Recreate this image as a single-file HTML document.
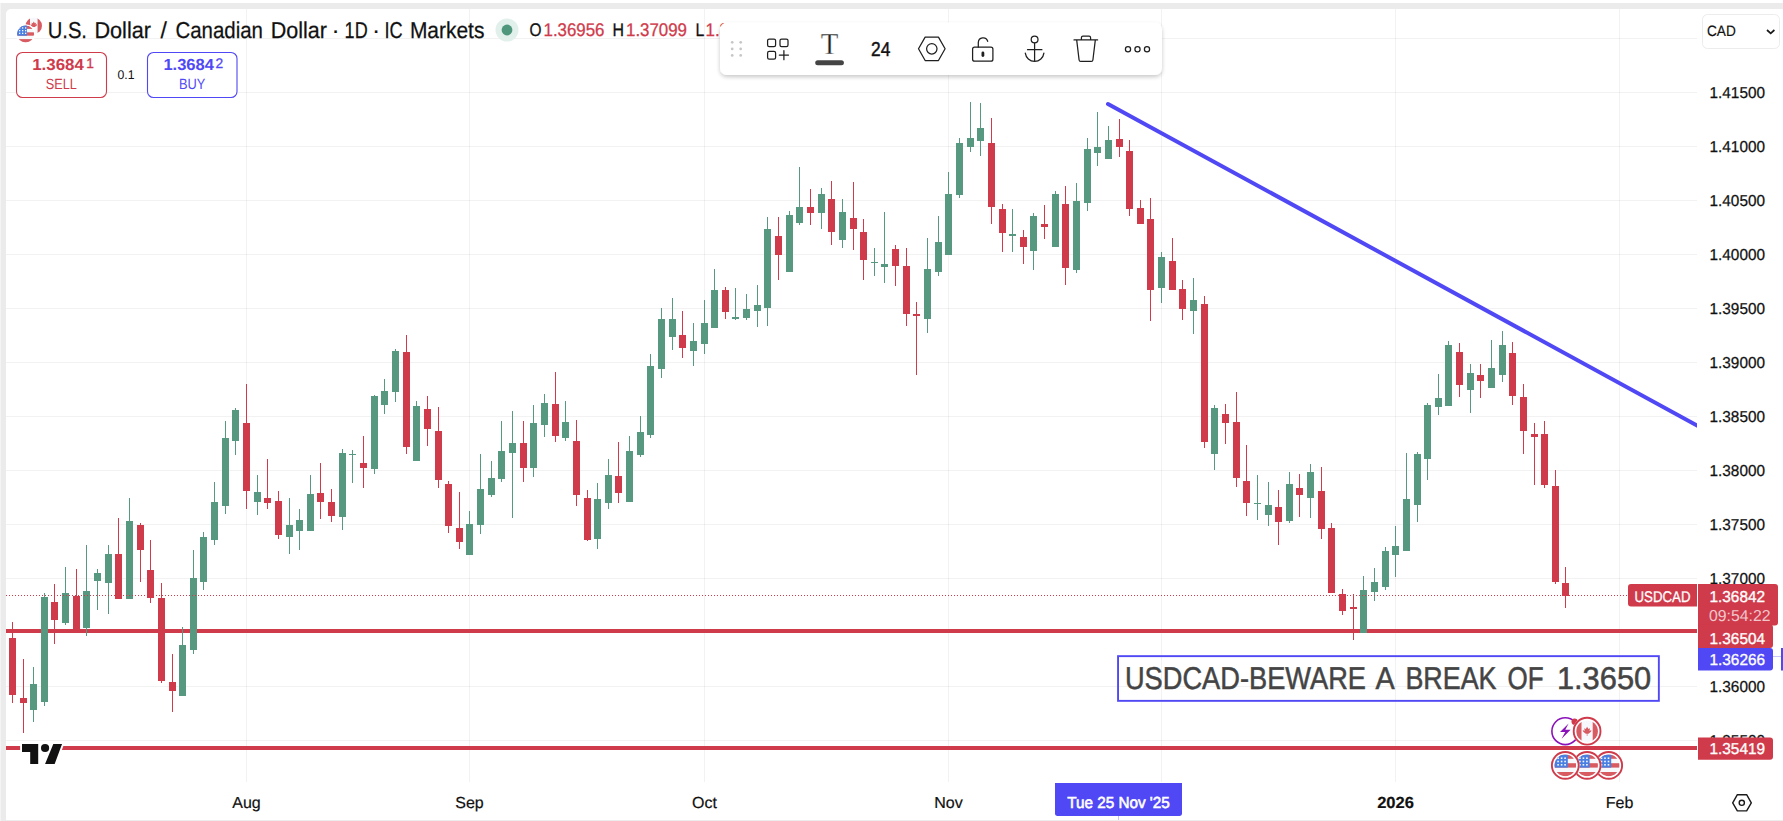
<!DOCTYPE html>
<html><head><meta charset="utf-8"><title>USDCAD chart</title>
<style>
html,body{margin:0;padding:0;background:#fff;}
body{width:1783px;height:821px;overflow:hidden;}
svg{display:block;font-family:"Liberation Sans",sans-serif;text-rendering:geometricPrecision;}
.cr{shape-rendering:crispEdges}
</style></head><body>
<svg width="1783" height="821" viewBox="0 0 1783 821">

<rect x="0" y="0" width="1783" height="821" fill="#fff"/>
<g class="cr"><rect x="0" y="3" width="1783" height="6" fill="#ebebeb"/><rect x="0" y="3" width="6" height="818" fill="#ebebeb"/><rect x="0" y="3" width="1" height="818" fill="#f4f4f4"/><rect x="6" y="820" width="1777" height="1" fill="#ececec"/></g>
<path d="M6 9h5a5 5 0 0 0-5 5z" fill="#ebebeb"/>
<path d="M1783 9h-5a5 5 0 0 1 5 5z" fill="#ebebeb"/>
<g class="cr" fill="#000" fill-opacity="0.052">
<rect x="6" y="38" width="1691" height="1"/>
<rect x="6" y="92" width="1691" height="1"/>
<rect x="6" y="146" width="1691" height="1"/>
<rect x="6" y="200" width="1691" height="1"/>
<rect x="6" y="254" width="1691" height="1"/>
<rect x="6" y="308" width="1691" height="1"/>
<rect x="6" y="362" width="1691" height="1"/>
<rect x="6" y="416" width="1691" height="1"/>
<rect x="6" y="470" width="1691" height="1"/>
<rect x="6" y="524" width="1691" height="1"/>
<rect x="6" y="578" width="1691" height="1"/>
<rect x="6" y="632" width="1691" height="1"/>
<rect x="6" y="686" width="1691" height="1"/>
<rect x="6" y="740" width="1691" height="1"/>
<rect x="246" y="9" width="1" height="773"/>
<rect x="469" y="9" width="1" height="773"/>
<rect x="704" y="9" width="1" height="773"/>
<rect x="948" y="9" width="1" height="773"/>
<rect x="1161" y="9" width="1" height="773"/>
<rect x="1395" y="9" width="1" height="773"/>
<rect x="1619" y="9" width="1" height="773"/>
</g>
<g class="cr" fill="#cf3b4b"><rect x="6" y="629" width="1691" height="4"/><rect x="6" y="746" width="1691" height="4"/></g>
<g class="cr">
<rect x="12" y="622" width="1" height="81" fill="#cf3b4b"/><rect x="9" y="638" width="7" height="57" fill="#cf3b4b"/>
<rect x="23" y="659" width="1" height="74" fill="#cf3b4b"/><rect x="20" y="698" width="7" height="5" fill="#cf3b4b"/>
<rect x="33" y="667" width="1" height="55" fill="#579980"/><rect x="30" y="684" width="7" height="26" fill="#579980"/>
<rect x="44" y="593" width="1" height="113" fill="#579980"/><rect x="41" y="597" width="7" height="105" fill="#579980"/>
<rect x="54" y="584" width="1" height="60" fill="#cf3b4b"/><rect x="51" y="602" width="7" height="18" fill="#cf3b4b"/>
<rect x="65" y="567" width="1" height="58" fill="#579980"/><rect x="62" y="593" width="7" height="30" fill="#579980"/>
<rect x="76" y="569" width="1" height="63" fill="#cf3b4b"/><rect x="73" y="596" width="7" height="35" fill="#cf3b4b"/>
<rect x="86" y="545" width="1" height="91" fill="#579980"/><rect x="83" y="591" width="7" height="37" fill="#579980"/>
<rect x="97" y="569" width="1" height="41" fill="#579980"/><rect x="94" y="573" width="7" height="8" fill="#579980"/>
<rect x="108" y="545" width="1" height="69" fill="#579980"/><rect x="105" y="554" width="7" height="29" fill="#579980"/>
<rect x="118" y="518" width="1" height="81" fill="#cf3b4b"/><rect x="115" y="554" width="7" height="45" fill="#cf3b4b"/>
<rect x="129" y="498" width="1" height="101" fill="#579980"/><rect x="126" y="521" width="7" height="78" fill="#579980"/>
<rect x="140" y="523" width="1" height="59" fill="#cf3b4b"/><rect x="137" y="525" width="7" height="25" fill="#cf3b4b"/>
<rect x="150" y="540" width="1" height="63" fill="#cf3b4b"/><rect x="147" y="570" width="7" height="28" fill="#cf3b4b"/>
<rect x="161" y="583" width="1" height="100" fill="#cf3b4b"/><rect x="158" y="598" width="7" height="83" fill="#cf3b4b"/>
<rect x="172" y="654" width="1" height="58" fill="#cf3b4b"/><rect x="169" y="682" width="7" height="9" fill="#cf3b4b"/>
<rect x="182" y="627" width="1" height="69" fill="#579980"/><rect x="179" y="645" width="7" height="51" fill="#579980"/>
<rect x="193" y="550" width="1" height="104" fill="#579980"/><rect x="190" y="578" width="7" height="72" fill="#579980"/>
<rect x="203" y="532" width="1" height="58" fill="#579980"/><rect x="200" y="537" width="7" height="45" fill="#579980"/>
<rect x="214" y="482" width="1" height="63" fill="#579980"/><rect x="211" y="502" width="7" height="38" fill="#579980"/>
<rect x="225" y="421" width="1" height="93" fill="#579980"/><rect x="222" y="438" width="7" height="68" fill="#579980"/>
<rect x="235" y="408" width="1" height="47" fill="#579980"/><rect x="232" y="410" width="7" height="31" fill="#579980"/>
<rect x="246" y="384" width="1" height="125" fill="#cf3b4b"/><rect x="243" y="423" width="7" height="68" fill="#cf3b4b"/>
<rect x="257" y="475" width="1" height="40" fill="#579980"/><rect x="254" y="492" width="7" height="10" fill="#579980"/>
<rect x="267" y="459" width="1" height="50" fill="#cf3b4b"/><rect x="264" y="498" width="7" height="5" fill="#cf3b4b"/>
<rect x="278" y="491" width="1" height="48" fill="#cf3b4b"/><rect x="275" y="501" width="7" height="34" fill="#cf3b4b"/>
<rect x="289" y="498" width="1" height="56" fill="#579980"/><rect x="286" y="525" width="7" height="12" fill="#579980"/>
<rect x="299" y="509" width="1" height="41" fill="#579980"/><rect x="296" y="520" width="7" height="11" fill="#579980"/>
<rect x="310" y="475" width="1" height="56" fill="#579980"/><rect x="307" y="494" width="7" height="37" fill="#579980"/>
<rect x="320" y="463" width="1" height="56" fill="#cf3b4b"/><rect x="317" y="493" width="7" height="9" fill="#cf3b4b"/>
<rect x="331" y="489" width="1" height="33" fill="#cf3b4b"/><rect x="328" y="502" width="7" height="14" fill="#cf3b4b"/>
<rect x="342" y="449" width="1" height="81" fill="#579980"/><rect x="339" y="453" width="7" height="64" fill="#579980"/>
<rect x="352" y="450" width="1" height="33" fill="#579980"/><rect x="349" y="454" width="7" height="1" fill="#579980"/>
<rect x="363" y="436" width="1" height="52" fill="#cf3b4b"/><rect x="360" y="463" width="7" height="5" fill="#cf3b4b"/>
<rect x="374" y="395" width="1" height="79" fill="#579980"/><rect x="371" y="396" width="7" height="73" fill="#579980"/>
<rect x="384" y="379" width="1" height="35" fill="#579980"/><rect x="381" y="391" width="7" height="14" fill="#579980"/>
<rect x="395" y="349" width="1" height="53" fill="#579980"/><rect x="392" y="351" width="7" height="41" fill="#579980"/>
<rect x="406" y="335" width="1" height="119" fill="#cf3b4b"/><rect x="403" y="352" width="7" height="95" fill="#cf3b4b"/>
<rect x="416" y="401" width="1" height="60" fill="#579980"/><rect x="413" y="406" width="7" height="55" fill="#579980"/>
<rect x="427" y="396" width="1" height="50" fill="#cf3b4b"/><rect x="424" y="409" width="7" height="20" fill="#cf3b4b"/>
<rect x="438" y="407" width="1" height="81" fill="#cf3b4b"/><rect x="435" y="431" width="7" height="49" fill="#cf3b4b"/>
<rect x="448" y="481" width="1" height="52" fill="#cf3b4b"/><rect x="445" y="484" width="7" height="42" fill="#cf3b4b"/>
<rect x="459" y="492" width="1" height="57" fill="#cf3b4b"/><rect x="456" y="528" width="7" height="14" fill="#cf3b4b"/>
<rect x="469" y="511" width="1" height="44" fill="#579980"/><rect x="466" y="524" width="7" height="31" fill="#579980"/>
<rect x="480" y="454" width="1" height="80" fill="#579980"/><rect x="477" y="489" width="7" height="36" fill="#579980"/>
<rect x="491" y="461" width="1" height="36" fill="#579980"/><rect x="488" y="478" width="7" height="17" fill="#579980"/>
<rect x="501" y="421" width="1" height="61" fill="#579980"/><rect x="498" y="451" width="7" height="28" fill="#579980"/>
<rect x="512" y="411" width="1" height="107" fill="#579980"/><rect x="509" y="443" width="7" height="10" fill="#579980"/>
<rect x="523" y="421" width="1" height="61" fill="#cf3b4b"/><rect x="520" y="443" width="7" height="25" fill="#cf3b4b"/>
<rect x="533" y="405" width="1" height="72" fill="#579980"/><rect x="530" y="423" width="7" height="45" fill="#579980"/>
<rect x="544" y="394" width="1" height="43" fill="#579980"/><rect x="541" y="403" width="7" height="22" fill="#579980"/>
<rect x="555" y="372" width="1" height="70" fill="#cf3b4b"/><rect x="552" y="404" width="7" height="32" fill="#cf3b4b"/>
<rect x="565" y="401" width="1" height="40" fill="#579980"/><rect x="562" y="422" width="7" height="16" fill="#579980"/>
<rect x="576" y="420" width="1" height="86" fill="#cf3b4b"/><rect x="573" y="441" width="7" height="54" fill="#cf3b4b"/>
<rect x="587" y="490" width="1" height="51" fill="#cf3b4b"/><rect x="584" y="498" width="7" height="42" fill="#cf3b4b"/>
<rect x="597" y="483" width="1" height="66" fill="#579980"/><rect x="594" y="499" width="7" height="40" fill="#579980"/>
<rect x="608" y="459" width="1" height="50" fill="#579980"/><rect x="605" y="475" width="7" height="28" fill="#579980"/>
<rect x="618" y="442" width="1" height="61" fill="#cf3b4b"/><rect x="615" y="476" width="7" height="17" fill="#cf3b4b"/>
<rect x="629" y="436" width="1" height="66" fill="#579980"/><rect x="626" y="451" width="7" height="51" fill="#579980"/>
<rect x="640" y="416" width="1" height="41" fill="#579980"/><rect x="637" y="432" width="7" height="23" fill="#579980"/>
<rect x="650" y="354" width="1" height="84" fill="#579980"/><rect x="647" y="366" width="7" height="69" fill="#579980"/>
<rect x="661" y="308" width="1" height="70" fill="#579980"/><rect x="658" y="319" width="7" height="50" fill="#579980"/>
<rect x="672" y="298" width="1" height="52" fill="#579980"/><rect x="669" y="319" width="7" height="18" fill="#579980"/>
<rect x="682" y="311" width="1" height="47" fill="#cf3b4b"/><rect x="679" y="335" width="7" height="13" fill="#cf3b4b"/>
<rect x="693" y="323" width="1" height="43" fill="#579980"/><rect x="690" y="341" width="7" height="10" fill="#579980"/>
<rect x="704" y="300" width="1" height="54" fill="#579980"/><rect x="701" y="323" width="7" height="21" fill="#579980"/>
<rect x="714" y="269" width="1" height="59" fill="#579980"/><rect x="711" y="290" width="7" height="38" fill="#579980"/>
<rect x="725" y="287" width="1" height="32" fill="#cf3b4b"/><rect x="722" y="290" width="7" height="22" fill="#cf3b4b"/>
<rect x="735" y="288" width="1" height="32" fill="#579980"/><rect x="732" y="317" width="7" height="2" fill="#579980"/>
<rect x="746" y="294" width="1" height="26" fill="#579980"/><rect x="743" y="309" width="7" height="9" fill="#579980"/>
<rect x="757" y="285" width="1" height="42" fill="#579980"/><rect x="754" y="305" width="7" height="6" fill="#579980"/>
<rect x="767" y="217" width="1" height="109" fill="#579980"/><rect x="764" y="229" width="7" height="79" fill="#579980"/>
<rect x="778" y="217" width="1" height="63" fill="#cf3b4b"/><rect x="775" y="236" width="7" height="19" fill="#cf3b4b"/>
<rect x="789" y="211" width="1" height="61" fill="#579980"/><rect x="786" y="215" width="7" height="57" fill="#579980"/>
<rect x="799" y="167" width="1" height="58" fill="#579980"/><rect x="796" y="207" width="7" height="16" fill="#579980"/>
<rect x="810" y="189" width="1" height="36" fill="#cf3b4b"/><rect x="807" y="207" width="7" height="6" fill="#cf3b4b"/>
<rect x="821" y="188" width="1" height="41" fill="#579980"/><rect x="818" y="194" width="7" height="19" fill="#579980"/>
<rect x="831" y="181" width="1" height="64" fill="#cf3b4b"/><rect x="828" y="199" width="7" height="33" fill="#cf3b4b"/>
<rect x="842" y="199" width="1" height="49" fill="#579980"/><rect x="839" y="212" width="7" height="28" fill="#579980"/>
<rect x="853" y="182" width="1" height="68" fill="#cf3b4b"/><rect x="850" y="218" width="7" height="11" fill="#cf3b4b"/>
<rect x="863" y="219" width="1" height="61" fill="#cf3b4b"/><rect x="860" y="232" width="7" height="28" fill="#cf3b4b"/>
<rect x="874" y="248" width="1" height="28" fill="#579980"/><rect x="871" y="262" width="7" height="1" fill="#579980"/>
<rect x="884" y="212" width="1" height="71" fill="#579980"/><rect x="881" y="264" width="7" height="3" fill="#579980"/>
<rect x="895" y="245" width="1" height="41" fill="#cf3b4b"/><rect x="892" y="249" width="7" height="17" fill="#cf3b4b"/>
<rect x="906" y="248" width="1" height="78" fill="#cf3b4b"/><rect x="903" y="266" width="7" height="48" fill="#cf3b4b"/>
<rect x="916" y="302" width="1" height="73" fill="#cf3b4b"/><rect x="913" y="314" width="7" height="2" fill="#cf3b4b"/>
<rect x="927" y="238" width="1" height="95" fill="#579980"/><rect x="924" y="269" width="7" height="50" fill="#579980"/>
<rect x="938" y="216" width="1" height="60" fill="#579980"/><rect x="935" y="242" width="7" height="30" fill="#579980"/>
<rect x="948" y="172" width="1" height="83" fill="#579980"/><rect x="945" y="194" width="7" height="61" fill="#579980"/>
<rect x="959" y="138" width="1" height="60" fill="#579980"/><rect x="956" y="143" width="7" height="52" fill="#579980"/>
<rect x="970" y="102" width="1" height="50" fill="#579980"/><rect x="967" y="138" width="7" height="9" fill="#579980"/>
<rect x="980" y="103" width="1" height="53" fill="#579980"/><rect x="977" y="128" width="7" height="13" fill="#579980"/>
<rect x="991" y="118" width="1" height="106" fill="#cf3b4b"/><rect x="988" y="143" width="7" height="64" fill="#cf3b4b"/>
<rect x="1002" y="204" width="1" height="48" fill="#cf3b4b"/><rect x="999" y="209" width="7" height="24" fill="#cf3b4b"/>
<rect x="1012" y="209" width="1" height="43" fill="#579980"/><rect x="1009" y="234" width="7" height="2" fill="#579980"/>
<rect x="1023" y="230" width="1" height="34" fill="#cf3b4b"/><rect x="1020" y="237" width="7" height="10" fill="#cf3b4b"/>
<rect x="1033" y="213" width="1" height="57" fill="#579980"/><rect x="1030" y="216" width="7" height="35" fill="#579980"/>
<rect x="1044" y="205" width="1" height="34" fill="#cf3b4b"/><rect x="1041" y="224" width="7" height="3" fill="#cf3b4b"/>
<rect x="1055" y="191" width="1" height="56" fill="#579980"/><rect x="1052" y="194" width="7" height="53" fill="#579980"/>
<rect x="1065" y="186" width="1" height="99" fill="#cf3b4b"/><rect x="1062" y="204" width="7" height="64" fill="#cf3b4b"/>
<rect x="1076" y="183" width="1" height="90" fill="#579980"/><rect x="1073" y="201" width="7" height="69" fill="#579980"/>
<rect x="1087" y="138" width="1" height="73" fill="#579980"/><rect x="1084" y="149" width="7" height="54" fill="#579980"/>
<rect x="1097" y="112" width="1" height="54" fill="#579980"/><rect x="1094" y="147" width="7" height="6" fill="#579980"/>
<rect x="1108" y="126" width="1" height="33" fill="#579980"/><rect x="1105" y="140" width="7" height="19" fill="#579980"/>
<rect x="1119" y="119" width="1" height="38" fill="#cf3b4b"/><rect x="1116" y="139" width="7" height="8" fill="#cf3b4b"/>
<rect x="1129" y="140" width="1" height="76" fill="#cf3b4b"/><rect x="1126" y="151" width="7" height="58" fill="#cf3b4b"/>
<rect x="1140" y="200" width="1" height="24" fill="#cf3b4b"/><rect x="1137" y="208" width="7" height="16" fill="#cf3b4b"/>
<rect x="1150" y="198" width="1" height="123" fill="#cf3b4b"/><rect x="1147" y="219" width="7" height="71" fill="#cf3b4b"/>
<rect x="1161" y="252" width="1" height="51" fill="#579980"/><rect x="1158" y="257" width="7" height="31" fill="#579980"/>
<rect x="1172" y="238" width="1" height="52" fill="#cf3b4b"/><rect x="1169" y="261" width="7" height="29" fill="#cf3b4b"/>
<rect x="1182" y="280" width="1" height="40" fill="#cf3b4b"/><rect x="1179" y="289" width="7" height="20" fill="#cf3b4b"/>
<rect x="1193" y="278" width="1" height="56" fill="#579980"/><rect x="1190" y="300" width="7" height="11" fill="#579980"/>
<rect x="1204" y="296" width="1" height="152" fill="#cf3b4b"/><rect x="1201" y="304" width="7" height="138" fill="#cf3b4b"/>
<rect x="1214" y="405" width="1" height="65" fill="#579980"/><rect x="1211" y="408" width="7" height="46" fill="#579980"/>
<rect x="1225" y="404" width="1" height="40" fill="#cf3b4b"/><rect x="1222" y="414" width="7" height="9" fill="#cf3b4b"/>
<rect x="1236" y="392" width="1" height="95" fill="#cf3b4b"/><rect x="1233" y="422" width="7" height="56" fill="#cf3b4b"/>
<rect x="1246" y="445" width="1" height="71" fill="#cf3b4b"/><rect x="1243" y="481" width="7" height="22" fill="#cf3b4b"/>
<rect x="1257" y="475" width="1" height="45" fill="#579980"/><rect x="1254" y="503" width="7" height="1" fill="#579980"/>
<rect x="1268" y="482" width="1" height="44" fill="#579980"/><rect x="1265" y="505" width="7" height="10" fill="#579980"/>
<rect x="1278" y="490" width="1" height="55" fill="#cf3b4b"/><rect x="1275" y="507" width="7" height="15" fill="#cf3b4b"/>
<rect x="1289" y="472" width="1" height="51" fill="#579980"/><rect x="1286" y="484" width="7" height="37" fill="#579980"/>
<rect x="1299" y="474" width="1" height="43" fill="#cf3b4b"/><rect x="1296" y="488" width="7" height="7" fill="#cf3b4b"/>
<rect x="1310" y="464" width="1" height="54" fill="#579980"/><rect x="1307" y="472" width="7" height="26" fill="#579980"/>
<rect x="1321" y="467" width="1" height="72" fill="#cf3b4b"/><rect x="1318" y="491" width="7" height="38" fill="#cf3b4b"/>
<rect x="1331" y="523" width="1" height="70" fill="#cf3b4b"/><rect x="1328" y="528" width="7" height="65" fill="#cf3b4b"/>
<rect x="1342" y="589" width="1" height="26" fill="#cf3b4b"/><rect x="1339" y="594" width="7" height="17" fill="#cf3b4b"/>
<rect x="1353" y="594" width="1" height="46" fill="#cf3b4b"/><rect x="1350" y="607" width="7" height="2" fill="#cf3b4b"/>
<rect x="1363" y="576" width="1" height="57" fill="#579980"/><rect x="1360" y="590" width="7" height="43" fill="#579980"/>
<rect x="1374" y="568" width="1" height="33" fill="#579980"/><rect x="1371" y="582" width="7" height="10" fill="#579980"/>
<rect x="1385" y="547" width="1" height="43" fill="#579980"/><rect x="1382" y="551" width="7" height="36" fill="#579980"/>
<rect x="1395" y="526" width="1" height="51" fill="#579980"/><rect x="1392" y="546" width="7" height="9" fill="#579980"/>
<rect x="1406" y="453" width="1" height="98" fill="#579980"/><rect x="1403" y="499" width="7" height="52" fill="#579980"/>
<rect x="1417" y="452" width="1" height="70" fill="#579980"/><rect x="1414" y="454" width="7" height="51" fill="#579980"/>
<rect x="1427" y="403" width="1" height="77" fill="#579980"/><rect x="1424" y="405" width="7" height="54" fill="#579980"/>
<rect x="1438" y="374" width="1" height="41" fill="#579980"/><rect x="1435" y="398" width="7" height="9" fill="#579980"/>
<rect x="1448" y="341" width="1" height="65" fill="#579980"/><rect x="1445" y="345" width="7" height="61" fill="#579980"/>
<rect x="1459" y="343" width="1" height="54" fill="#cf3b4b"/><rect x="1456" y="352" width="7" height="33" fill="#cf3b4b"/>
<rect x="1470" y="364" width="1" height="49" fill="#579980"/><rect x="1467" y="373" width="7" height="17" fill="#579980"/>
<rect x="1480" y="364" width="1" height="34" fill="#cf3b4b"/><rect x="1477" y="375" width="7" height="6" fill="#cf3b4b"/>
<rect x="1491" y="340" width="1" height="48" fill="#579980"/><rect x="1488" y="368" width="7" height="20" fill="#579980"/>
<rect x="1502" y="331" width="1" height="51" fill="#579980"/><rect x="1499" y="345" width="7" height="30" fill="#579980"/>
<rect x="1512" y="342" width="1" height="63" fill="#cf3b4b"/><rect x="1509" y="353" width="7" height="43" fill="#cf3b4b"/>
<rect x="1523" y="384" width="1" height="70" fill="#cf3b4b"/><rect x="1520" y="397" width="7" height="34" fill="#cf3b4b"/>
<rect x="1534" y="423" width="1" height="62" fill="#cf3b4b"/><rect x="1531" y="434" width="7" height="3" fill="#cf3b4b"/>
<rect x="1544" y="421" width="1" height="67" fill="#cf3b4b"/><rect x="1541" y="434" width="7" height="51" fill="#cf3b4b"/>
<rect x="1555" y="470" width="1" height="114" fill="#cf3b4b"/><rect x="1552" y="486" width="7" height="96" fill="#cf3b4b"/>
<rect x="1565" y="567" width="1" height="41" fill="#cf3b4b"/><rect x="1562" y="583" width="7" height="13" fill="#cf3b4b"/>
</g>
<line x1="6" y1="595.5" x2="1628" y2="595.5" stroke="#cf3b4b" stroke-width="1" stroke-dasharray="1 2" class="cr"/>
<clipPath id="pane"><rect x="6" y="9" width="1691" height="773"/></clipPath>
<line x1="1108" y1="104" x2="1701" y2="427.6" stroke="#5048f5" stroke-width="4" stroke-linecap="round" clip-path="url(#pane)"/>
<rect x="1118.05" y="656.15" width="540.8" height="44.7" fill="none" stroke="#5048f5" stroke-width="1.9"/>
<text y="688.6" font-size="31.5" fill="#444" stroke="#444" stroke-width="0.5"><tspan x="1124.9" textLength="241.1" lengthAdjust="spacingAndGlyphs">USDCAD-BEWARE</tspan> <tspan x="1375.6" textLength="17.6" lengthAdjust="spacingAndGlyphs">A</tspan> <tspan x="1405.4" textLength="91.1" lengthAdjust="spacingAndGlyphs">BREAK</tspan> <tspan x="1507.5" textLength="36.1" lengthAdjust="spacingAndGlyphs">OF</tspan> <tspan x="1556.9" textLength="94.3" lengthAdjust="spacingAndGlyphs">1.3650</tspan></text>
<circle cx="1608.7" cy="765.4" r="14.3" fill="#fff"/><clipPath id="us0"><circle cx="1608.7" cy="765.4" r="10.8"/></clipPath><g clip-path="url(#us0)"><rect x="1597.7" y="754.4" width="22" height="22" fill="#f7f8fc"/><rect x="1597.7" y="754.4" width="22" height="4.4" fill="#d85b62"/><rect x="1597.7" y="763.1999999999999" width="22" height="4.4" fill="#d85b62"/><rect x="1597.7" y="772.0" width="22" height="4.4" fill="#d85b62"/><rect x="1597.7" y="754.4" width="13.5" height="13.2" fill="#4a7fe2"/><rect x="1600.7" y="757.4" width="1.6" height="1.6" fill="#f7f8fc"/><rect x="1600.7" y="760.6999999999999" width="1.6" height="1.6" fill="#f7f8fc"/><rect x="1600.7" y="764.0" width="1.6" height="1.6" fill="#f7f8fc"/><rect x="1604.2" y="757.4" width="1.6" height="1.6" fill="#f7f8fc"/><rect x="1604.2" y="760.6999999999999" width="1.6" height="1.6" fill="#f7f8fc"/><rect x="1604.2" y="764.0" width="1.6" height="1.6" fill="#f7f8fc"/><rect x="1607.7" y="757.4" width="1.6" height="1.6" fill="#f7f8fc"/><rect x="1607.7" y="760.6999999999999" width="1.6" height="1.6" fill="#f7f8fc"/><rect x="1607.7" y="764.0" width="1.6" height="1.6" fill="#f7f8fc"/></g><circle cx="1608.7" cy="765.4" r="13.4" fill="none" stroke="#cf3b4b" stroke-width="1.9"/>
<circle cx="1587.1" cy="765.4" r="14.3" fill="#fff"/><clipPath id="us1"><circle cx="1587.1" cy="765.4" r="10.8"/></clipPath><g clip-path="url(#us1)"><rect x="1576.1" y="754.4" width="22" height="22" fill="#f7f8fc"/><rect x="1576.1" y="754.4" width="22" height="4.4" fill="#d85b62"/><rect x="1576.1" y="763.1999999999999" width="22" height="4.4" fill="#d85b62"/><rect x="1576.1" y="772.0" width="22" height="4.4" fill="#d85b62"/><rect x="1576.1" y="754.4" width="13.5" height="13.2" fill="#4a7fe2"/><rect x="1579.1" y="757.4" width="1.6" height="1.6" fill="#f7f8fc"/><rect x="1579.1" y="760.6999999999999" width="1.6" height="1.6" fill="#f7f8fc"/><rect x="1579.1" y="764.0" width="1.6" height="1.6" fill="#f7f8fc"/><rect x="1582.6" y="757.4" width="1.6" height="1.6" fill="#f7f8fc"/><rect x="1582.6" y="760.6999999999999" width="1.6" height="1.6" fill="#f7f8fc"/><rect x="1582.6" y="764.0" width="1.6" height="1.6" fill="#f7f8fc"/><rect x="1586.1" y="757.4" width="1.6" height="1.6" fill="#f7f8fc"/><rect x="1586.1" y="760.6999999999999" width="1.6" height="1.6" fill="#f7f8fc"/><rect x="1586.1" y="764.0" width="1.6" height="1.6" fill="#f7f8fc"/></g><circle cx="1587.1" cy="765.4" r="13.4" fill="none" stroke="#cf3b4b" stroke-width="1.9"/>
<circle cx="1565.3" cy="765.4" r="14.3" fill="#fff"/><clipPath id="us2"><circle cx="1565.3" cy="765.4" r="10.8"/></clipPath><g clip-path="url(#us2)"><rect x="1554.3" y="754.4" width="22" height="22" fill="#f7f8fc"/><rect x="1554.3" y="754.4" width="22" height="4.4" fill="#d85b62"/><rect x="1554.3" y="763.1999999999999" width="22" height="4.4" fill="#d85b62"/><rect x="1554.3" y="772.0" width="22" height="4.4" fill="#d85b62"/><rect x="1554.3" y="754.4" width="13.5" height="13.2" fill="#4a7fe2"/><rect x="1557.3" y="757.4" width="1.6" height="1.6" fill="#f7f8fc"/><rect x="1557.3" y="760.6999999999999" width="1.6" height="1.6" fill="#f7f8fc"/><rect x="1557.3" y="764.0" width="1.6" height="1.6" fill="#f7f8fc"/><rect x="1560.8" y="757.4" width="1.6" height="1.6" fill="#f7f8fc"/><rect x="1560.8" y="760.6999999999999" width="1.6" height="1.6" fill="#f7f8fc"/><rect x="1560.8" y="764.0" width="1.6" height="1.6" fill="#f7f8fc"/><rect x="1564.3" y="757.4" width="1.6" height="1.6" fill="#f7f8fc"/><rect x="1564.3" y="760.6999999999999" width="1.6" height="1.6" fill="#f7f8fc"/><rect x="1564.3" y="764.0" width="1.6" height="1.6" fill="#f7f8fc"/></g><circle cx="1565.3" cy="765.4" r="13.4" fill="none" stroke="#cf3b4b" stroke-width="1.9"/>
<circle cx="1565.3" cy="731.2" r="13.4" fill="#fff" stroke="#8a12b8" stroke-width="1.6"/>
<path d="M1568.6 723.5l-8.6 8.6h5.2l-3.6 6.6 9-9h-5.3z" fill="#8a12b8"/>
<circle cx="1574.6" cy="721.7" r="3.1" fill="#cf3b4b"/>
<circle cx="1587.1" cy="731.2" r="14.3" fill="#fff"/>
<clipPath id="ca"><circle cx="1587.1" cy="731.2" r="10.8"/></clipPath>
<g clip-path="url(#ca)"><rect x="1576.1" y="720.2" width="22" height="22" fill="#f7f8fc"/><rect x="1576.1" y="720.2" width="5.4" height="22" fill="#d85b62"/><rect x="1592.6999999999998" y="720.2" width="5.4" height="22" fill="#d85b62"/>
<path d="M1587.1 726.7l1.3 2.2 1.6-.6-.5 2.6 1.9-.9-.4 1.7-2.6 2h-1v2.2h-.6v-2.2h-1l-2.6-2-.4-1.7 1.9.9-.5-2.6 1.6.6z" fill="#d85b62"/></g>
<circle cx="1587.1" cy="731.2" r="13.4" fill="none" stroke="#cf3b4b" stroke-width="1.9"/>
<g stroke="#fff" stroke-width="3.8" stroke-linejoin="round"><path d="M22 744.1H38.2V764H30.2V751.9H22Z M53.3 744.1H62.05L54.66 764H45.07Z" fill="#fff"/><circle cx="45.07" cy="748" r="4.1" fill="#fff"/></g>
<path d="M22 744.1H38.2V764H30.2V751.9H22Z M53.3 744.1H62.05L54.66 764H45.07Z" fill="#111"/><circle cx="45.07" cy="748" r="4.1" fill="#111"/>
<rect x="1698" y="9" width="85" height="773" fill="#fff"/>
<g font-size="15.8" fill="#111" stroke="#111" stroke-width="0.25">
<text x="1709.5" y="98" textLength="55.5" lengthAdjust="spacingAndGlyphs">1.41500</text>
<text x="1709.5" y="152" textLength="55.5" lengthAdjust="spacingAndGlyphs">1.41000</text>
<text x="1709.5" y="206" textLength="55.5" lengthAdjust="spacingAndGlyphs">1.40500</text>
<text x="1709.5" y="260" textLength="55.5" lengthAdjust="spacingAndGlyphs">1.40000</text>
<text x="1709.5" y="314" textLength="55.5" lengthAdjust="spacingAndGlyphs">1.39500</text>
<text x="1709.5" y="368" textLength="55.5" lengthAdjust="spacingAndGlyphs">1.39000</text>
<text x="1709.5" y="422" textLength="55.5" lengthAdjust="spacingAndGlyphs">1.38500</text>
<text x="1709.5" y="476" textLength="55.5" lengthAdjust="spacingAndGlyphs">1.38000</text>
<text x="1709.5" y="530" textLength="55.5" lengthAdjust="spacingAndGlyphs">1.37500</text>
<text x="1709.5" y="584" textLength="55.5" lengthAdjust="spacingAndGlyphs">1.37000</text>
<text x="1709.5" y="692" textLength="55.5" lengthAdjust="spacingAndGlyphs">1.36000</text>
<text x="1709.5" y="746" textLength="55.5" lengthAdjust="spacingAndGlyphs">1.35500</text>
</g>
<path d="M1631 584H1697V606.5H1631a3 3 0 0 1 -3 -3V587a3 3 0 0 1 3 -3Z" fill="#cf3b4b"/>
<text x="1634.5" y="601.5" font-size="15.4" fill="#fff" stroke="#fff" stroke-width="0.3" textLength="56" lengthAdjust="spacingAndGlyphs">USDCAD</text>
<path d="M1698 584H1775a3 3 0 0 1 3 3V622.6a3 3 0 0 1 -3 3H1698V584Z" fill="#cf3b4b"/>
<path d="M1698 624.5H1770a3 3 0 0 1 3 3V645.0a3 3 0 0 1 -3 3H1698V624.5Z" fill="#cf3b4b"/>
<path d="M1698 648H1770a3 3 0 0 1 3 3V667.5a3 3 0 0 1 -3 3H1698V648Z" fill="#5048f5"/>
<path d="M1698 737.4H1770a3 3 0 0 1 3 3V756.6999999999999a3 3 0 0 1 -3 3H1698V737.4Z" fill="#cf3b4b"/>
<g font-size="15.8" fill="#fff" stroke="#fff" stroke-width="0.35">
<text x="1709.5" y="602" textLength="55.5" lengthAdjust="spacingAndGlyphs">1.36842</text>
<text x="1709" y="620.7" fill-opacity="0.72" stroke="none" textLength="61.5" lengthAdjust="spacingAndGlyphs">09:54:22</text>
<text x="1709.5" y="643.6" textLength="55.5" lengthAdjust="spacingAndGlyphs">1.36504</text>
<text x="1709.5" y="665" textLength="55.5" lengthAdjust="spacingAndGlyphs">1.36266</text>
<text x="1709.5" y="754.3" textLength="55.5" lengthAdjust="spacingAndGlyphs">1.35419</text>
</g>
<rect x="1773" y="656" width="8" height="1" fill="#c9c7fb" class="cr"/><rect x="1781" y="648" width="2" height="22.5" fill="#5048f5"/>
<rect x="6" y="783" width="1777" height="37" fill="#fff"/>
<g font-size="16" fill="#111" stroke="#111" stroke-width="0.2" text-anchor="middle">
<text x="246.5" y="808">Aug</text>
<text x="469.5" y="808">Sep</text>
<text x="704.5" y="808">Oct</text>
<text x="948.5" y="808">Nov</text>
<text x="1619.5" y="808">Feb</text>
<text x="1395.5" y="808" font-weight="bold" textLength="36.7" lengthAdjust="spacingAndGlyphs">2026</text>
</g>
<path d="M1055 783H1182V813.3a2.6 2.6 0 0 1-2.6 2.6H1057.6a2.6 2.6 0 0 1-2.6-2.6Z" fill="#5048f5"/>
<rect x="1118" y="816" width="1" height="4" fill="#c5c3fb" class="cr"/>
<text x="1118.5" y="808" font-size="16" fill="#fff" stroke="#fff" stroke-width="0.6" text-anchor="middle" textLength="102.4" lengthAdjust="spacingAndGlyphs">Tue 25 Nov '25</text>
<path d="M1732.7 802.8L1737.35 794.6999999999999H1746.65L1751.3 802.8L1746.65 810.9H1737.35Z" fill="none" stroke="#1a1a1a" stroke-width="1.4" stroke-linejoin="round"/><circle cx="1741.8" cy="802.8" r="2.6" fill="none" stroke="#1a1a1a" stroke-width="1.4"/>
<rect x="1702.5" y="14.5" width="77" height="34" rx="5" fill="#fff" stroke="#ececec" stroke-width="1"/>
<text x="1707" y="35.6" font-size="15" fill="#111" stroke="#111" stroke-width="0.2" textLength="28.8" lengthAdjust="spacingAndGlyphs">CAD</text>
<path d="M1767 30l3.7 3.4 3.7-3.4" fill="none" stroke="#1a1a1a" stroke-width="1.7"/>
<clipPath id="hca"><circle cx="33.8" cy="25.8" r="8.2"/></clipPath>
<g clip-path="url(#hca)"><rect x="25" y="17" width="18" height="18" fill="#f7f8fc"/><rect x="25" y="17" width="5" height="18" fill="#d85b62"/><rect x="37.6" y="17" width="5" height="18" fill="#d85b62"/><path d="M33.8 21.5l1 1.7 1.2-.4-.4 2 1.5-.7-.3 1.3-2 1.5h-2l-2-1.5-.3-1.3 1.5.7-.4-2 1.2.4z" fill="#d85b62"/></g>
<circle cx="25.6" cy="34" r="9.8" fill="#fff"/>
<clipPath id="hus"><circle cx="25.6" cy="34" r="8.5"/></clipPath>
<g clip-path="url(#hus)"><rect x="17" y="25" width="18" height="18" fill="#f7f8fc"/>
<rect x="17" y="25.5" width="18" height="3.4" fill="#d85b62"/>
<rect x="17" y="32.3" width="18" height="3.4" fill="#d85b62"/>
<rect x="17" y="39.1" width="18" height="3.4" fill="#d85b62"/>
<rect x="17" y="25" width="10" height="10.7" fill="#4a7fe2"/>
<rect x="19" y="27.3" width="1.3" height="1.3" fill="#f7f8fc"/>
<rect x="19" y="30" width="1.3" height="1.3" fill="#f7f8fc"/>
<rect x="19" y="32.7" width="1.3" height="1.3" fill="#f7f8fc"/>
<rect x="22" y="27.3" width="1.3" height="1.3" fill="#f7f8fc"/>
<rect x="22" y="30" width="1.3" height="1.3" fill="#f7f8fc"/>
<rect x="22" y="32.7" width="1.3" height="1.3" fill="#f7f8fc"/>
<rect x="25" y="27.3" width="1.3" height="1.3" fill="#f7f8fc"/>
<rect x="25" y="30" width="1.3" height="1.3" fill="#f7f8fc"/>
<rect x="25" y="32.7" width="1.3" height="1.3" fill="#f7f8fc"/>
</g>
<text y="37.6" font-size="23" fill="#111" stroke="#111" stroke-width="0.25"><tspan x="47.699999999999996" textLength="39.3" lengthAdjust="spacingAndGlyphs">U.S.</tspan> <tspan x="94.4" textLength="56.6" lengthAdjust="spacingAndGlyphs">Dollar</tspan> <tspan x="160.5">/</tspan> <tspan x="175.4" textLength="87.6" lengthAdjust="spacingAndGlyphs">Canadian</tspan> <tspan x="270.79999999999995" textLength="56.2" lengthAdjust="spacingAndGlyphs">Dollar</tspan> <tspan x="331.7">·</tspan> <tspan x="344.59999999999997" textLength="23.1" lengthAdjust="spacingAndGlyphs">1D</tspan> <tspan x="372.2">·</tspan> <tspan x="384.4" textLength="18.2" lengthAdjust="spacingAndGlyphs">IC</tspan> <tspan x="409.9" textLength="74.5" lengthAdjust="spacingAndGlyphs">Markets</tspan></text>
<circle cx="507" cy="30" r="11.5" fill="#e2f0eb"/><circle cx="507" cy="30" r="5.4" fill="#4e977c"/>
<g font-size="18.3" stroke-width="0.3">
<text x="529.5" y="36" fill="#111" stroke="#111" textLength="12" lengthAdjust="spacingAndGlyphs">O</text><text x="543.5" y="36" fill="#cf3b4b" stroke="#cf3b4b" textLength="61" lengthAdjust="spacingAndGlyphs">1.36956</text>
<text x="612.5" y="36" fill="#111" stroke="#111" textLength="11.5" lengthAdjust="spacingAndGlyphs">H</text><text x="626" y="36" fill="#cf3b4b" stroke="#cf3b4b" textLength="61" lengthAdjust="spacingAndGlyphs">1.37099</text>
<text x="695.5" y="36" fill="#111" stroke="#111" textLength="8.8" lengthAdjust="spacingAndGlyphs">L</text><text x="705.5" y="36" fill="#cf3b4b" stroke="#cf3b4b" textLength="61" lengthAdjust="spacingAndGlyphs">1.36773</text>
</g>
<rect x="16.5" y="52.5" width="90" height="45" rx="6" fill="#fff" stroke="#cf3b4b" stroke-width="1.1"/>
<rect x="147.5" y="52.5" width="89.5" height="45" rx="6" fill="#fff" stroke="#5048f5" stroke-width="1.1"/>
<text x="32.2" y="69.9" font-size="16" font-weight="bold" fill="#cf3b4b" textLength="51.6" lengthAdjust="spacingAndGlyphs">1.3684</text><text x="86.3" y="68.1" font-size="13.8" fill="#cf3b4b" stroke="#cf3b4b" stroke-width="0.3">1</text>
<text x="45.7" y="88.7" font-size="14.8" fill="#cf3b4b" textLength="31.2" lengthAdjust="spacingAndGlyphs">SELL</text>
<text x="163.4" y="69.9" font-size="16" font-weight="bold" fill="#5048f5" textLength="50.5" lengthAdjust="spacingAndGlyphs">1.3684</text><text x="215.5" y="68.1" font-size="13.8" fill="#5048f5" stroke="#5048f5" stroke-width="0.3">2</text>
<text x="178.9" y="88.7" font-size="14.8" fill="#5048f5" textLength="26.3" lengthAdjust="spacingAndGlyphs">BUY</text>
<text x="117.5" y="78.7" font-size="12.6" fill="#111" textLength="17" lengthAdjust="spacingAndGlyphs">0.1</text>
<defs><filter id="sh" x="-5%" y="-20%" width="110%" height="160%"><feGaussianBlur in="SourceAlpha" stdDeviation="2.2"/><feOffset dy="2"/><feComponentTransfer><feFuncA type="linear" slope="0.22"/></feComponentTransfer><feMerge><feMergeNode/><feMergeNode in="SourceGraphic"/></feMerge></filter></defs>
<rect x="720" y="22.5" width="442" height="52.5" rx="7" fill="#fff" filter="url(#sh)"/>
<circle cx="732.2" cy="42.3" r="1.35" fill="#c6c6c6"/>
<circle cx="732.2" cy="48.9" r="1.35" fill="#c6c6c6"/>
<circle cx="732.2" cy="55.4" r="1.35" fill="#c6c6c6"/>
<circle cx="740.7" cy="42.3" r="1.35" fill="#c6c6c6"/>
<circle cx="740.7" cy="48.9" r="1.35" fill="#c6c6c6"/>
<circle cx="740.7" cy="55.4" r="1.35" fill="#c6c6c6"/>
<g fill="none" stroke="#1f1f1f" stroke-width="1.25" stroke-linejoin="round" stroke-linecap="round"><rect x="767.6" y="39" width="8" height="7.6" rx="1.6"/><rect x="780" y="39" width="8" height="7.6" rx="1.6"/><rect x="767.6" y="51.4" width="8" height="7.6" rx="1.6"/><path d="M783.9 50.5v9.2M779.3 55.1h9.2"/></g>
<text x="829.5" y="54.1" font-family="Liberation Serif,serif" font-size="30.5" fill="#1f1f1f" stroke="#fff" stroke-width="0.35" paint-order="fill stroke" text-anchor="middle" textLength="17.6" lengthAdjust="spacingAndGlyphs">T</text>
<rect x="815.2" y="60.2" width="28.7" height="5" rx="2.5" fill="#444"/>
<text x="871.1" y="55.8" font-size="20" fill="#111" stroke="#111" stroke-width="0.45" textLength="19.3" lengthAdjust="spacingAndGlyphs">24</text>
<g fill="none" stroke="#1f1f1f" stroke-width="1.25" stroke-linejoin="round" stroke-linecap="round"><path d="M918.5 48.8L925.15 37.099999999999994H938.4499999999999L945.0999999999999 48.8L938.4499999999999 60.5H925.15Z"/><circle cx="931.8" cy="48.8" r="5.2"/></g>
<g fill="none" stroke="#1f1f1f" stroke-width="1.25" stroke-linejoin="round" stroke-linecap="round"><rect x="972.6" y="47.2" width="20.3" height="14" rx="2"/><path d="M978.3 47v-4.5a4.8 4.8 0 0 1 9.4-1.2"/></g><rect x="981.5" y="51.6" width="2.8" height="5.4" rx="1.4" fill="#1f1f1f"/>
<g fill="none" stroke="#1f1f1f" stroke-width="1.25" stroke-linejoin="round" stroke-linecap="round"><circle cx="1034.6" cy="39.6" r="3.4"/><path d="M1034.6 43.2V61.4M1027.5 49.7h14.4M1025.3 53.2c.6 4.6 4.4 8.2 9.3 8.2s8.7-3.6 9.3-8.2"/></g>
<g fill="none" stroke="#1f1f1f" stroke-width="1.25" stroke-linejoin="round" stroke-linecap="round"><path d="M1074 39.9h23.6M1081.4 39.9v-2.2a1.6 1.6 0 0 1 1.6-1.6h6a1.6 1.6 0 0 1 1.6 1.6v2.2M1076.7 40.2l2.4 19.8a1.6 1.6 0 0 0 1.6 1.4h10.6a1.6 1.6 0 0 0 1.6-1.4l2.4-19.8"/></g>
<g fill="none" stroke="#1f1f1f" stroke-width="1.25" stroke-linejoin="round" stroke-linecap="round"><circle cx="1128" cy="49.3" r="2.6"/><circle cx="1137.5" cy="49.3" r="2.6"/><circle cx="1147" cy="49.3" r="2.6"/></g>
</svg></body></html>
